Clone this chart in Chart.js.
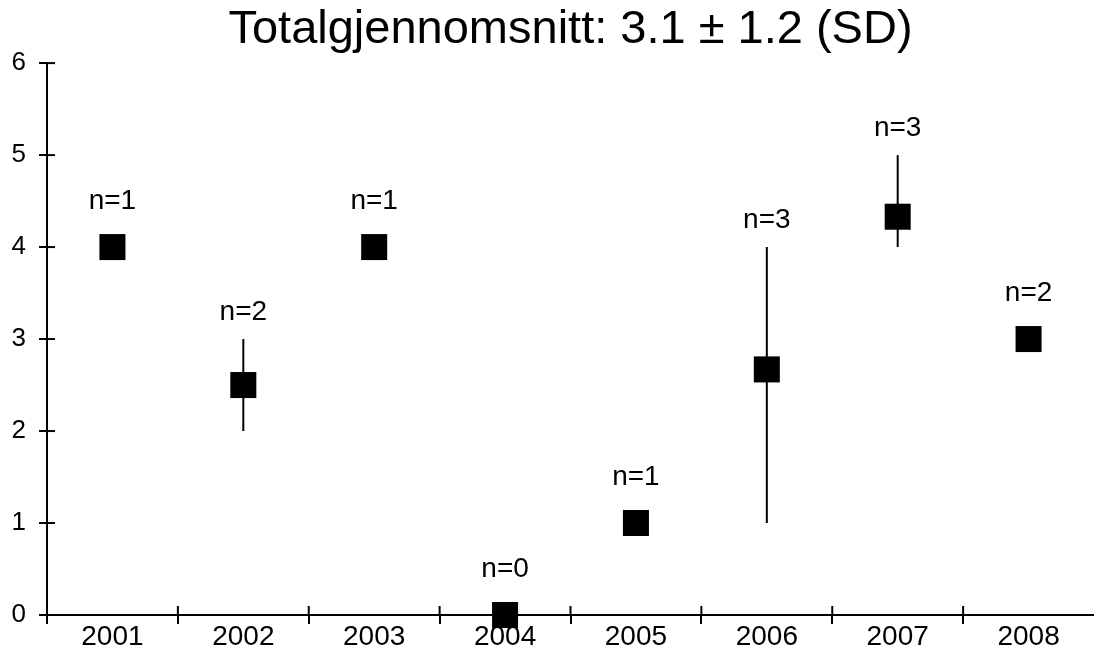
<!DOCTYPE html>
<html>
<head>
<meta charset="utf-8">
<script src="https://cdn.jsdelivr.net/npm/chart.js@4"></script>
<style>
html,body{margin:0;padding:0;background:#fff;}
#wrap{width:1094px;height:668px;}
</style>
</head>
<body>
<div id="wrap"><canvas id="c" width="1094" height="668"></canvas></div>
<script>
const years = ['2001','2002','2003','2004','2005','2006','2007','2008'];
const means = [4, 2.5, 4, 0, 1, 2.67, 4.33, 3];
const lows  = [4, 2,   4, 0, 1, 1,    4,    3];
const highs = [4, 3,   4, 0, 1, 4,    5,    3];
const nCounts = [1, 2, 1, 0, 1, 3, 3, 2];
const yTicks = [0, 1, 2, 3, 4, 5, 6];
const titleText = 'Totalgjennomsnitt: 3.1 \u00B1 1.2 (SD)';

const FONT = "'Liberation Sans', Arial, Helvetica, sans-serif";

const errorBars = {
  id: 'errorBars',
  beforeDatasetsDraw(chart) {
    const {ctx, scales: {y}} = chart;
    const meta = chart.getDatasetMeta(0);
    ctx.save();
    ctx.strokeStyle = '#000';
    ctx.lineWidth = 2;
    meta.data.forEach((pt, i) => {
      if (highs[i] === lows[i]) return;
      ctx.beginPath();
      ctx.moveTo(pt.x, y.getPixelForValue(lows[i]));
      ctx.lineTo(pt.x, y.getPixelForValue(highs[i]));
      ctx.stroke();
    });
    ctx.restore();
  }
};

const nLabels = {
  id: 'nLabels',
  afterDatasetsDraw(chart) {
    const {ctx, scales: {y}} = chart;
    const meta = chart.getDatasetMeta(0);
    ctx.save();
    ctx.fillStyle = '#000';
    ctx.font = '28px ' + FONT;
    ctx.textAlign = 'center';
    ctx.textBaseline = 'alphabetic';
    meta.data.forEach((pt, i) => {
      const hasBar = highs[i] !== lows[i];
      const top = y.getPixelForValue(Math.max(highs[i], means[i]));
      const off = hasBar ? 19 : 38;
      ctx.fillText('n=' + nCounts[i], pt.x, top - off);
    });
    ctx.restore();
  }
};

const crossTicks = {
  id: 'crossTicks',
  afterDraw(chart) {
    const {ctx, scales: {x, y}, chartArea: ca} = chart;
    ctx.save();
    ctx.strokeStyle = '#000';
    ctx.lineWidth = 2;
    const line = (x1, y1, x2, y2) => { ctx.beginPath(); ctx.moveTo(x1, y1); ctx.lineTo(x2, y2); ctx.stroke(); };
    y.ticks.forEach((t, i) => {
      const py = y.getPixelForTick(i);
      line(ca.left, py, ca.left + 8, py);
    });
    for (let i = 1; i < years.length; i++) {
      const px = (x.getPixelForValue(i - 1) + x.getPixelForValue(i)) / 2;
      line(px, ca.bottom - 9, px, ca.bottom);
    }
    line(ca.left, ca.bottom, ca.left, ca.bottom + 9);
    ctx.restore();
  }
};

new Chart(document.getElementById('c'), {
  type: 'line',
  data: {
    labels: years,
    datasets: [{
      data: means,
      showLine: false,
      pointStyle: 'rect',
      pointRadius: 18.4,
      pointHoverRadius: 18.4,
      pointBackgroundColor: '#000',
      pointBorderColor: '#000',
      pointBorderWidth: 0,
      clip: false
    }]
  },
  options: {
    responsive: false,
    animation: false,
    events: [],
    layout: { autoPadding: false, padding: { left: 0, right: 0, top: 0, bottom: 0 } },
    plugins: {
      legend: { display: false },
      tooltip: { enabled: false },
      title: {
        display: true,
        fullSize: false,
        text: titleText,
        color: '#000',
        font: { family: FONT, size: 47, weight: 'normal', lineHeight: 1.13 },
        padding: { top: 3, bottom: 7 }
      }
    },
    scales: {
      x: {
        type: 'category',
        offset: true,
        grid: {
          display: true, offset: true, drawOnChartArea: false, drawTicks: true, tickLength: 9, lineWidth: 2,
          color: (c) => (c.type === 'tick' ? '#000' : 'rgba(0,0,0,0)')
        },
        border: { display: true, color: '#000', width: 2 },
        ticks: { color: '#000', font: { family: FONT, size: 28 }, padding: -4, maxRotation: 0, autoSkip: false },
        afterFit(s) { s.height = 53; s.paddingLeft = 0; s.paddingRight = 0; }
      },
      y: {
        min: 0, max: 6,
        afterBuildTicks(s) { s.ticks = yTicks.map(v => ({ value: v })); },
        grid: { display: true, drawOnChartArea: false, drawTicks: true, tickLength: 8, color: '#000', lineWidth: 2 },
        border: { display: true, color: '#000', width: 2 },
        ticks: { color: '#000', font: { family: FONT, size: 26 }, padding: 13 },
        afterFit(s) { s.width = 47; }
      }
    }
  },
  plugins: [errorBars, nLabels, crossTicks]
});
</script>
</body>
</html>
